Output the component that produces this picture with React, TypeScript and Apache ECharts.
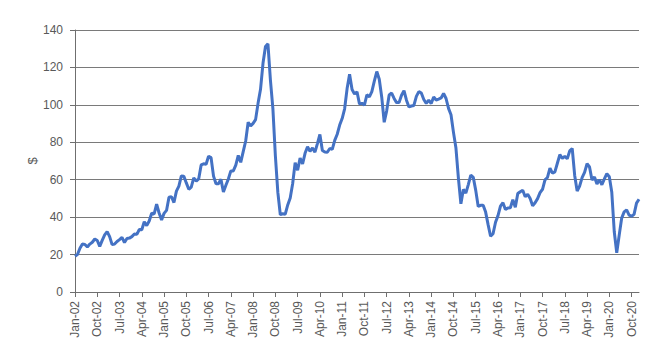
import React, { useEffect, useRef } from "react";
import * as echarts from "echarts";

const v2002 = [19.1, 20.0, 23.4, 25.6, 25.4, 24.1, 25.6, 26.6, 28.3, 27.5, 24.4, 27.6];
const v2003 = [30.5, 32.3, 29.6, 25.3, 25.6, 27.0, 28.0, 29.2, 26.4, 28.6, 28.8, 29.6];
const v2004 = [31.0, 30.8, 33.4, 33.3, 37.5, 35.5, 37.9, 42.1, 41.7, 46.9, 42.2, 38.5];
const v2005 = [42.0, 43.6, 50.6, 50.9, 47.8, 53.9, 56.6, 62.0, 61.9, 58.3, 54.9, 56.0];
const v2006 = [61.0, 59.2, 60.4, 67.9, 68.5, 68.3, 72.5, 71.8, 61.9, 57.8, 57.9, 60.2];
const v2007 = [53.4, 57.0, 60.4, 64.7, 64.7, 67.8, 73.0, 69.3, 75.0, 80.7, 90.7, 88.7];
const v2008 = [90.1, 92.1, 100.8, 108.3, 122.2, 131.2, 132.6, 113.2, 98.0, 72.8, 53.2, 41.3];
const v2009 = [41.8, 41.6, 46.5, 50.2, 58.0, 69.1, 65.1, 71.6, 68.4, 74.1, 77.6, 75.2];
const v2010 = [77.0, 74.7, 79.3, 84.2, 75.6, 74.8, 74.7, 76.7, 76.2, 81.0, 84.3, 89.2];
const v2011 = [92.7, 97.9, 108.7, 116.3, 108.2, 105.8, 107.0, 100.5, 100.8, 99.9, 105.4, 104.3];
const v2012 = [107.1, 112.7, 117.8, 113.7, 104.1, 90.7, 96.8, 105.3, 106.3, 103.4, 101.2, 101.2];
const v2013 = [105.1, 107.6, 102.5, 98.9, 99.4, 99.7, 104.5, 107.1, 106.3, 102.9, 100.8, 102.5];
const v2014 = [100.7, 104.2, 102.6, 103.1, 103.7, 106.1, 103.4, 98.1, 94.7, 85.3, 76.9, 60.7];
const v2015 = [47.1, 54.8, 52.8, 57.4, 62.5, 61.3, 54.3, 45.7, 46.3, 46.4, 42.7, 36.0];
const v2016 = [29.8, 31.1, 37.3, 40.8, 45.9, 47.7, 44.1, 44.9, 45.0, 49.3, 45.3, 52.6];
const v2017 = [53.6, 54.4, 50.9, 52.2, 49.9, 46.1, 47.7, 49.9, 53.1, 54.9, 59.9, 61.2];
const v2018 = [66.2, 63.5, 64.2, 68.8, 73.4, 71.4, 72.5, 71.2, 75.4, 76.7, 62.3, 53.9];
const v2019 = [56.6, 61.1, 63.9, 68.6, 66.8, 59.8, 61.5, 57.7, 60.0, 57.3, 60.4, 63.2];
const v2020 = [61.6, 53.3, 32.2, 21.0, 30.4, 39.5, 42.8, 43.9, 41.1, 40.5, 41.5, 47.5];
const v2021 = [49.6];

const yearValues = [
  v2002, v2003, v2004, v2005, v2006, v2007, v2008, v2009, v2010, v2011,
  v2012, v2013, v2014, v2015, v2016, v2017, v2018, v2019, v2020, v2021,
];
const firstYear = 2002;
const monthNames = ["Jan", "Feb", "Mar", "Apr", "May", "Jun", "Jul", "Aug", "Sep", "Oct", "Nov", "Dec"];

const categories: string[] = [];
const values: number[] = [];
yearValues.forEach((arr, yi) => {
  arr.forEach((v, mi) => {
    const yy = String((firstYear + yi) % 100).padStart(2, "0");
    categories.push(`${monthNames[mi]}-${yy}`);
    values.push(v);
  });
});

const yMin = 0;
const yMax = 140;
const yStep = 20;
const axisTitle = "$";

export default function App() {
  const ref = useRef<HTMLDivElement>(null);
  useEffect(() => {
    document.body.style.margin = "0";
    if (!ref.current) return;
    const chart = echarts.init(ref.current, undefined, { renderer: "svg" });
    const font = "Liberation Sans, Arial, sans-serif";
    chart.setOption({
      animation: false,
      backgroundColor: "#ffffff",
      grid: { left: 75, right: 30, top: 30, bottom: 68, containLabel: false },
      xAxis: {
        type: "category",
        data: categories,
        boundaryGap: false,
        axisLine: { show: true, lineStyle: { color: "#6f6f6f", width: 1 } },
        axisTick: { show: true, interval: 8, length: 5, lineStyle: { color: "#6f6f6f" } },
        axisLabel: {
          interval: 8,
          rotate: 90,
          margin: 9,
          color: "#595959",
          fontSize: 12,
          fontFamily: font,
        },
        splitLine: { show: false },
      },
      yAxis: {
        type: "value",
        min: yMin,
        max: yMax,
        interval: yStep,
        name: axisTitle,
        nameLocation: "middle",
        nameGap: 36,
        nameRotate: 90,
        nameMoveOverlap: false,
        nameTextStyle: { color: "#595959", fontSize: 13, fontFamily: font },
        axisLine: { show: true, lineStyle: { color: "#6f6f6f", width: 1 } },
        axisTick: { show: true, length: 5, lineStyle: { color: "#6f6f6f" } },
        axisLabel: { color: "#595959", fontSize: 12, fontFamily: font, margin: 12 },
        splitLine: { show: true, lineStyle: { color: "#7a7a7a", width: 1 } },
      },
      series: [
        {
          type: "line",
          data: values,
          showSymbol: false,
          symbol: "none",
          smooth: false,
          lineStyle: { color: "#4472C4", width: 3 },
          itemStyle: { color: "#4472C4" },
        },
      ],
    });
    return () => chart.dispose();
  }, []);
  return <div ref={ref} style={{ width: 669, height: 360 }} />;
}
